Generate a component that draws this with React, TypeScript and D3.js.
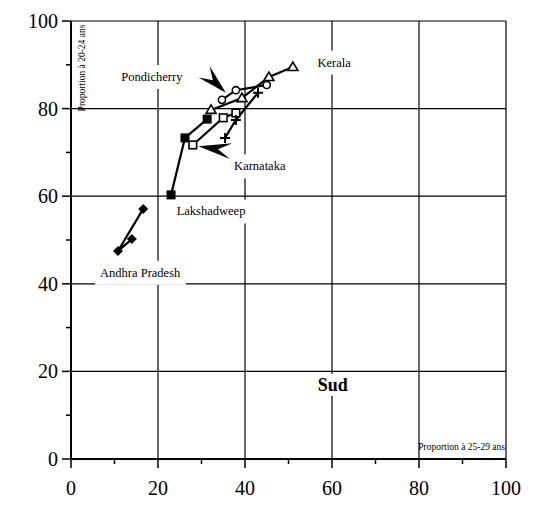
import { useEffect, useRef } from "react";
import * as d3 from "d3";

const W = 536;
const H = 506;
const margin = { top: 21, right: 30, bottom: 47, left: 71 };

const majorTicks = [0, 20, 40, 60, 80, 100];
const minorTicks = [10, 30, 50, 70, 90];

// series (x = proportion 25-29, y = proportion 20-24)
const andhraX = [14.0, 10.8, 16.6];
const andhraY = [50.2, 47.5, 57.1];
const lakshaX = [23.0, 26.2, 31.3];
const lakshaY = [60.3, 73.3, 77.6];
const karnatakaX = [28.0, 35.0, 37.9];
const karnatakaY = [71.7, 77.9, 79.0];
const tamilX = [35.4, 37.9, 43.0];
const tamilY = [73.3, 77.4, 83.6];
const keralaX = [32.2, 39.3, 45.5, 51.0];
const keralaY = [79.7, 82.4, 87.2, 89.5];
const pondiX = [34.7, 37.9, 45.0];
const pondiY = [82.0, 84.2, 85.4];

const labelNames = ["Pondicherry", "Kerala", "Karnataka", "Lakshadweep", "Andhra Pradesh"];
const labelX = [18.6, 60.5, 43.4, 32.2, 15.9];
const labelY = [87.3, 90.6, 66.9, 56.6, 42.6];

// arrows: [tailX, tailY, tipX, tipY]
const arrows = [
  [30.6, 88.4, 35.6, 83.6],
  [36.8, 70.3, 29.3, 71.4],
];

const App = () => {
  const ref = useRef<SVGSVGElement>(null);

  useEffect(() => {
    const svg = d3.select(ref.current);
    svg.selectAll("*").remove();

    const x = d3.scaleLinear().domain([0, 100]).range([margin.left, W - margin.right]);
    const y = d3.scaleLinear().domain([0, 100]).range([H - margin.bottom, margin.top]);
    const font = "Liberation Serif, DejaVu Serif, serif";

    // grid + frame
    const grid = svg.append("g").attr("stroke", "#000").attr("stroke-width", 1.2);
    majorTicks.slice(1).forEach((t) => {
      grid.append("line").attr("x1", x(t)).attr("x2", x(t)).attr("y1", y(0)).attr("y2", y(100));
      grid.append("line").attr("x1", x(0)).attr("x2", x(100)).attr("y1", y(t)).attr("y2", y(t));
    });

    // axes
    const ax = svg.append("g").attr("stroke", "#000");
    ax.append("line").attr("x1", x(0)).attr("x2", x(0)).attr("y1", y(0)).attr("y2", y(100)).attr("stroke-width", 2);
    ax.append("line").attr("x1", x(0)).attr("x2", x(100)).attr("y1", y(0)).attr("y2", y(0)).attr("stroke-width", 2);
    majorTicks.forEach((t) => {
      ax.append("line").attr("x1", x(0) - 9).attr("x2", x(0)).attr("y1", y(t)).attr("y2", y(t)).attr("stroke-width", 1.5);
      ax.append("line").attr("x1", x(t)).attr("x2", x(t)).attr("y1", y(0)).attr("y2", y(0) + 9).attr("stroke-width", 1.5);
    });
    minorTicks.forEach((t) => {
      ax.append("line").attr("x1", x(0) - 5).attr("x2", x(0)).attr("y1", y(t)).attr("y2", y(t)).attr("stroke-width", 1.5);
      ax.append("line").attr("x1", x(t)).attr("x2", x(t)).attr("y1", y(0)).attr("y2", y(0) + 5).attr("stroke-width", 1.5);
    });
    const tl = svg.append("g").attr("font-family", font).attr("font-size", 20).attr("fill", "#000");
    majorTicks.forEach((t) => {
      tl.append("text").attr("x", x(0) - 13).attr("y", y(t)).attr("dy", "0.35em").attr("text-anchor", "end").text(t);
      tl.append("text").attr("x", x(t)).attr("y", y(0) + 36).attr("text-anchor", "middle").text(t);
    });

    // axis titles
    svg.append("text")
      .attr("transform", `translate(${x(0) + 14},${y(100) + 47}) rotate(-90)`)
      .attr("text-anchor", "middle").attr("font-family", font).attr("font-size", 9.5)
      .text("Proportion à 20-24 ans");
    svg.append("text")
      .attr("x", x(100) - 1).attr("y", y(0) - 9)
      .attr("text-anchor", "end").attr("font-family", font).attr("font-size", 9.5)
      .text("Proportion à 25-29 ans");

    // labels with white background
    const addLabel = (txt: string, lx: number, ly: number, size: number, bold = false, padX = 5, padY = 5) => {
      const g = svg.append("g");
      const rect = g.append("rect").attr("fill", "#fff");
      const t = g.append("text")
        .attr("x", lx).attr("y", ly).attr("dy", "0.35em")
        .attr("text-anchor", "middle").attr("font-family", font)
        .attr("font-size", size).attr("font-weight", bold ? "bold" : "normal")
        .text(txt);
      const b = (t.node() as SVGTextElement).getBBox();
      rect.attr("x", b.x - padX).attr("y", b.y - padY).attr("width", b.width + 2 * padX).attr("height", b.height + 2 * padY);
    };
    labelNames.forEach((n, i) => addLabel(n, x(labelX[i]), y(labelY[i]), 12.5));
    addLabel("Sud", x(60.2), y(17.0), 18, true, 6, 1);

    // arrows
    arrows.forEach(([bx, by, tx, ty]) => {
      const B = [x(bx), y(by)];
      const T = [x(tx), y(ty)];
      const dx = T[0] - B[0], dy = T[1] - B[1];
      const len = Math.hypot(dx, dy);
      const ux = dx / len, uy = dy / len;
      const nx = -uy, ny = ux;
      const w = 8;
      const pts = [
        T,
        [B[0] + nx * w, B[1] + ny * w],
        [B[0] + ux * len * 0.4, B[1] + uy * len * 0.4],
        [B[0] - nx * w, B[1] - ny * w],
      ];
      svg.append("path").attr("d", "M" + pts.map((p) => p.join(",")).join("L") + "Z").attr("fill", "#000");
    });

    // series
    const series = [
      { xs: andhraX, ys: andhraY, m: "diamond" },
      { xs: lakshaX, ys: lakshaY, m: "fsquare" },
      { xs: karnatakaX, ys: karnatakaY, m: "osquare" },
      { xs: tamilX, ys: tamilY, m: "plus" },
      { xs: keralaX, ys: keralaY, m: "triangle" },
      { xs: pondiX, ys: pondiY, m: "circle" },
    ];

    series.forEach((s) => {
      const pts = s.xs.map((v, i) => [x(v), y(s.ys[i])] as [number, number]);
      svg.append("path")
        .attr("d", d3.line()(pts))
        .attr("fill", "none").attr("stroke", "#000").attr("stroke-width", 2.2);
    });

    series.forEach((s) => {
      const g = svg.append("g");
      s.xs.forEach((v, i) => {
        const px = x(v), py = y(s.ys[i]);
        if (s.m === "diamond") {
          const r = 5;
          g.append("path").attr("d", `M${px},${py - r}L${px + r},${py}L${px},${py + r}L${px - r},${py}Z`).attr("fill", "#000");
        } else if (s.m === "fsquare") {
          g.append("rect").attr("x", px - 4.5).attr("y", py - 4.5).attr("width", 9).attr("height", 9).attr("fill", "#000");
        } else if (s.m === "osquare") {
          g.append("rect").attr("x", px - 3.8).attr("y", py - 3.8).attr("width", 7.6).attr("height", 7.6)
            .attr("fill", "#fff").attr("stroke", "#000").attr("stroke-width", 1.6);
        } else if (s.m === "plus") {
          g.append("path").attr("d", `M${px - 5},${py}H${px + 5}M${px},${py - 5}V${py + 5}`)
            .attr("stroke", "#000").attr("stroke-width", 2);
        } else if (s.m === "triangle") {
          const r = 5;
          g.append("path").attr("d", `M${px},${py - r}L${px + r},${py + r * 0.7}L${px - r},${py + r * 0.7}Z`)
            .attr("fill", "#fff").attr("stroke", "#000").attr("stroke-width", 1.6);
        } else {
          g.append("circle").attr("cx", px).attr("cy", py).attr("r", 3.6)
            .attr("fill", "#fff").attr("stroke", "#000").attr("stroke-width", 1.6);
        }
      });
    });
  }, []);

  return (
    <svg
      ref={ref}
      width={W}
      height={H}
      style={{ position: "absolute", left: 0, top: 0, background: "#fff" }}
    />
  );
};

export default App;
